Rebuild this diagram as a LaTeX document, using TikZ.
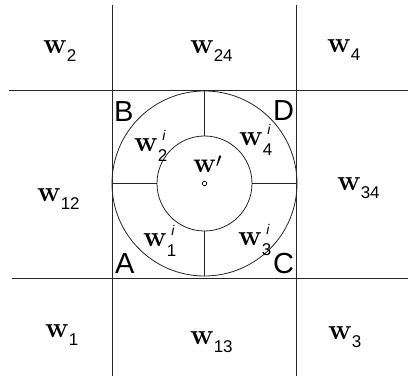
\documentclass[tikz,border=0pt]{standalone}
\usepackage{fontspec}
\newfontfamily\hel{Liberation Sans}
\newcommand{\wbig}{{\bfseries\fontsize{29}{29}\selectfont w}}
\newcommand{\wsb}[1]{\wbig\raisebox{-8pt}{\hel\fontsize{17}{17}\selectfont #1}}
\newcommand{\wsi}[1]{\wbig\rlap{\hspace{4.5pt}\raisebox{11pt}{\hel\itshape\fontsize{14}{14}\selectfont i}}\raisebox{-10pt}{\hel\fontsize{17}{17}\selectfont #1}}
\newcommand{\wprm}{{\bfseries\fontsize{28}{28}\selectfont w}\raisebox{5pt}{\fontsize{22}{22}\selectfont$\prime$}}
\tikzset{
  lbl/.style={anchor=base west, inner sep=0pt},
  corner/.style={anchor=base west, inner sep=0pt, font=\hel\fontsize{29}{29}\selectfont},
  ln/.style={line width=0.8pt, black!85}
}
\begin{document}
\begin{tikzpicture}[x=1pt,y=-1pt]
\useasboundingbox (0,0) rectangle (408,377);
% grid lines
\coordinate (L1t) at (112,5);
\coordinate (L1b) at (112,376);
\coordinate (L2t) at (296,5);
\coordinate (L2b) at (296,376);
\coordinate (H1l) at (9,90);
\coordinate (H1r) at (408,90);
\coordinate (H2l) at (12,278);
\coordinate (H2r) at (408,278);
\draw[ln] (L1t) -- (L1b);
\draw[ln] (L2t) -- (L2b);
\draw[ln] (H1l) -- (H1r);
\draw[ln] (H2l) -- (H2r);
% circles
\coordinate (ctr) at (204.5,183.5);
\draw[ln] (ctr) circle[radius=92.5];
\draw[ln] (ctr) circle[radius=47.5];
\draw[ln] (204.5,91) -- (204.5,136);
\draw[ln] (204.5,231) -- (204.5,276);
\draw[ln] (112,183.5) -- (157,183.5);
\draw[ln] (252,183.5) -- (296,183.5);
\draw[line width=0.7pt] (ctr) circle[radius=2.2];
% outer labels
\node[lbl] (w2) at (43,54) {\wsb{2}};
\node[lbl] (w24) at (190,54) {\wsb{24}};
\node[lbl] (w4) at (327,53) {\wsb{4}};
\node[lbl] (w12) at (37,202) {\wsb{12}};
\node[lbl] (w34) at (337,191) {\wsb{34}};
\node[lbl] (w1) at (45,338) {\wsb{1}};
\node[lbl] (w13) at (190,345) {\wsb{13}};
\node[lbl] (w3) at (328,340) {\wsb{3}};
% inner labels
\node[lbl] (w2i) at (134,152) {\wsi{2}};
\node[lbl] (w4i) at (239,146) {\wsi{4}};
\node[lbl] (w1i) at (143,247) {\wsi{1}};
\node[lbl] (w3i) at (238,246) {\wsi{3}};
\node[lbl] (wp) at (193,173) {\wprm};
% corners
\node[corner] (B) at (114,122) {B};
\node[corner] (D) at (273,121) {D};
\node[corner] (A) at (115,274) {A};
\node[corner] (C) at (273,274) {C};
\end{tikzpicture}
\end{document}
